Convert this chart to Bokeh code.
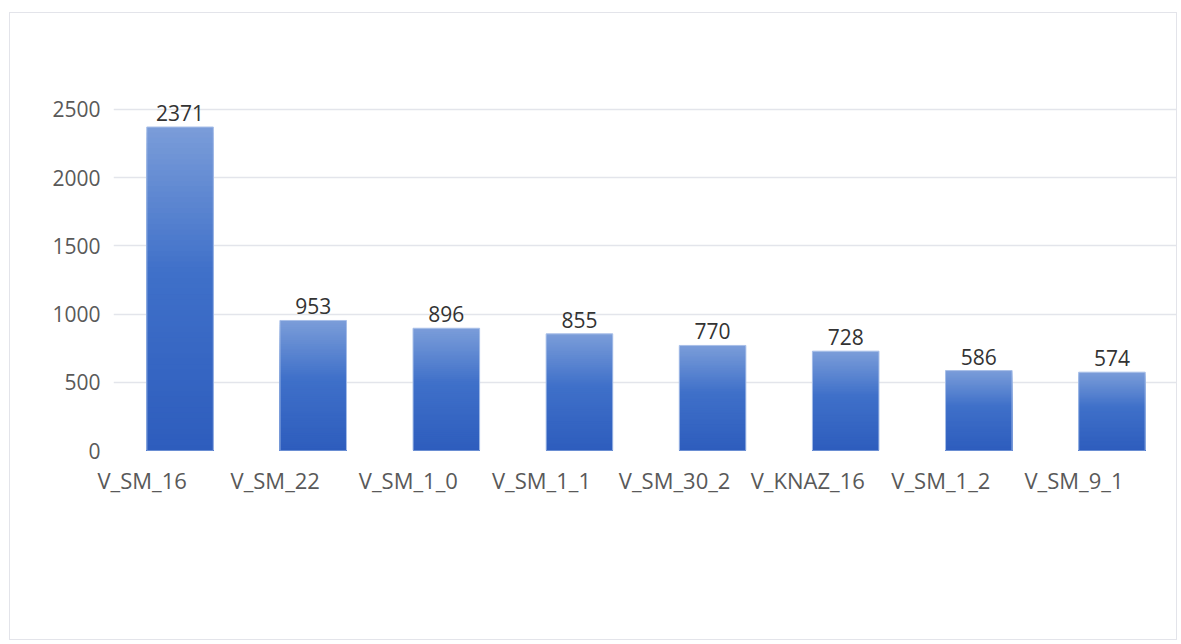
from bokeh.plotting import figure
from bokeh.models import (ColumnDataSource, Range1d, SingleIntervalTicker, LabelSet,
                          FixedTicker, CustomJSTickFormatter)
from bokeh.embed import file_html
from bokeh.resources import INLINE
from bokeh.core.properties import value

categories = ["V_SM_16", "V_SM_22", "V_SM_1_0", "V_SM_1_1", "V_SM_30_2", "V_KNAZ_16", "V_SM_1_2", "V_SM_9_1"]
counts = [2371, 953, 896, 855, 770, 728, 586, 574]

FONT = "Open Sans"
TXT = "#595959"

n = len(categories)
pos = [i + 0.5 for i in range(n)]  # slot centres on a numeric axis

p = figure(x_range=Range1d(0, n), y_range=Range1d(0, 2800),
           width=1168, height=628, output_backend="svg", toolbar_location=None,
           min_border_left=103, min_border_right=0, min_border_top=55, min_border_bottom=191)
p.styles = {"border": "1px solid #e3e4ea", "margin-left": "9px", "margin-top": "12px"}
p.outline_line_color = None
p.background_fill_color = "white"
p.border_fill_color = "white"

# gradient bars: each bar drawn as nested rectangles from 0 up to a fraction of its own value
def lerp(c1, c2, t):
    return "#%02x%02x%02x" % tuple(int(round(a + (b - a) * t)) for a, b in zip(c1, c2))

top_c = (0x7b, 0x9d, 0xd9)
mid_c = (0x3f, 0x70, 0xc9)
bot_c = (0x2e, 0x5d, 0xbd)
N = 60
xs, tops, cols = [], [], []
for i in range(N, 0, -1):
    ft = (i - 0.5) / N
    if ft > 0.55:
        c = lerp(mid_c, top_c, (ft - 0.55) / 0.45)
    else:
        c = lerp(bot_c, mid_c, ft / 0.55)
    for x, v in zip(pos, counts):
        xs.append(x)
        tops.append(v * i / N)
        cols.append(c)

gsrc = ColumnDataSource(dict(x=xs, top=tops, color=cols))
p.vbar(x="x", bottom=0, top="top", width=0.5, source=gsrc,
       fill_color="color", line_color=None)

src = ColumnDataSource(dict(x=pos, top=counts, lab=[str(c) for c in counts]))
p.vbar(x="x", top="top", width=0.5, source=src, fill_color=None,
       line_color="#a8bfe8", line_width=1)

labels = LabelSet(x="x", y="top", text="lab", source=src, text_align="center",
                  text_baseline="alphabetic", y_offset=6, text_font=value(FONT),
                  text_font_size="21px", text_color="#333333")
p.add_layout(labels)

# category names on the x axis, each shifted left of its bar as in the original
p.xaxis.ticker = FixedTicker(ticks=[i + 0.215 for i in range(n)])
p.xaxis.formatter = CustomJSTickFormatter(args=dict(names=categories),
                                          code="return names[Math.floor(tick)];")
p.xaxis.major_label_text_font_size = "22px"
p.xaxis.major_label_standoff = 8

p.yaxis.ticker = SingleIntervalTicker(interval=500)
p.ygrid.ticker = SingleIntervalTicker(interval=500)
p.xgrid.grid_line_color = None
p.ygrid.grid_line_color = "#e3e5eb"
p.ygrid.grid_line_width = 1.5

for ax in (p.xaxis, p.yaxis):
    ax.axis_line_color = None
    ax.major_tick_line_color = None
    ax.minor_tick_line_color = None
    ax.major_label_text_font = FONT
    ax.major_label_text_color = TXT

p.yaxis.major_label_text_font_size = "21px"
p.yaxis.major_label_standoff = 7

open("out.html", "w").write(file_html(p, INLINE))
